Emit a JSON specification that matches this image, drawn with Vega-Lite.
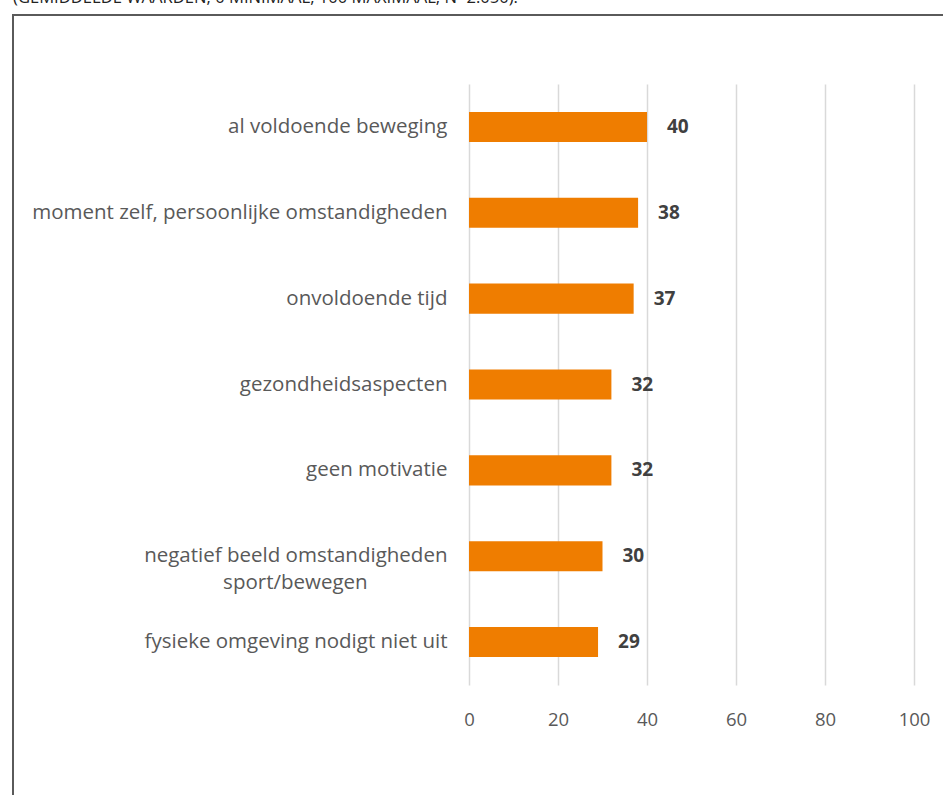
{
  "$schema": "https://vega.github.io/schema/vega-lite/v6.json",
  "autosize": "none",
  "padding": {"left": 13, "top": 15, "right": 0, "bottom": 0},
  "width": 935,
  "height": 790,
  "background": "white",
  "title": {
    "text": "(GEMIDDELDE WAARDEN, 0 MINIMAAL, 100 MAXIMAAL, N=2.050).",
    "anchor": "start",
    "frame": "group",
    "orient": "top",
    "offset": -5,
    "baseline": "alphabetic",
    "font": "Open Sans",
    "fontSize": 16.6,
    "fontWeight": "normal",
    "color": "#222222"
  },
  "config": {
    "view": {"stroke": "#5a5a5a", "strokeWidth": 2},
    "font": "Open Sans"
  },
  "data": {
    "values": [
      {"reden": "al voldoende beweging", "score": 40},
      {"reden": "moment zelf, persoonlijke omstandigheden", "score": 38},
      {"reden": "onvoldoende tijd", "score": 37},
      {"reden": "gezondheidsaspecten", "score": 32},
      {"reden": "geen motivatie", "score": 32},
      {"reden": "negatief beeld omstandigheden|sport/bewegen", "score": 30},
      {"reden": "fysieke omgeving nodigt niet uit", "score": 29}
    ]
  },
  "resolve": {"axis": {"x": "independent"}},
  "encoding": {
    "y": {
      "field": "reden",
      "type": "nominal",
      "sort": null,
      "scale": {"range": [69, 670], "paddingInner": 0.65, "paddingOuter": 0.325},
      "axis": {
        "title": null,
        "orient": "left",
        "offset": -456,
        "domain": false,
        "ticks": false,
        "tickSize": 0,
        "grid": false,
        "labelPadding": 22,
        "labelFont": "Open Sans",
        "labelFontSize": 20.5,
        "labelColor": "#595959",
        "labelLimit": 0,
        "labelLineHeight": 27,
        "labelExpr": "indexof(datum.label, '|') > 0 ? [split(datum.label, '|')[0], split(datum.label, '|')[1] + '\u00a0\u00a0\u00a0\u00a0\u00a0\u00a0\u00a0\u00a0\u00a0\u00a0\u00a0\u00a0\u00a0\u00a0\u00a0\u200b'] : datum.label"
      }
    }
  },
  "layer": [
    {
      "mark": {"type": "bar", "color": "#EF7D00"},
      "encoding": {
        "x": {
          "field": "score",
          "type": "quantitative",
          "scale": {"domain": [-102.47, 107.64], "nice": false, "zero": false},
          "axis": {
            "title": null,
            "orient": "top",
            "values": [0, 20, 40, 60, 80, 100],
            "domain": false,
            "ticks": false,
            "labels": false,
            "grid": true,
            "gridColor": "#d9d9d9",
            "gridWidth": 1.5
          }
        }
      }
    },
    {
      "mark": {"type": "text", "align": "left", "baseline": "middle", "dx": 20, "font": "Open Sans", "fontSize": 19, "fontWeight": "bold", "color": "#404040"},
      "encoding": {
        "x": {
          "field": "score",
          "type": "quantitative",
          "axis": {
            "title": null,
            "orient": "bottom",
            "values": [0, 20, 40, 60, 80, 100],
            "offset": -95,
            "domain": false,
            "ticks": false,
            "tickSize": 0,
            "labelPadding": 0,
            "labelBaseline": "top",
            "grid": false,
            "labelFont": "Open Sans",
            "labelFontSize": 18.5,
            "labelColor": "#595959"
          }
        },
        "text": {"field": "score", "type": "quantitative"}
      }
    }
  ]
}
